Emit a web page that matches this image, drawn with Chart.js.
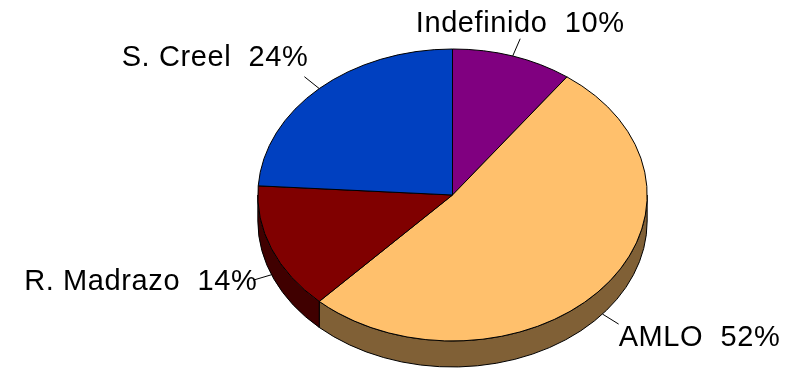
<!DOCTYPE html>
<html>
<head>
<meta charset="utf-8">
<script src="https://cdn.jsdelivr.net/npm/chart.js@4.4.1/dist/chart.umd.min.js"></script>
<style>
  html, body { margin: 0; padding: 0; background: #fff; overflow: hidden; }
  #chart_votos { display: block; }
</style>
</head>
<body>
<canvas id="chart_votos" width="792" height="369"></canvas>
<script>
var candidatos = ['Indefinido', 'AMLO', 'R. Madrazo', 'S. Creel'];
var porcentajes = [10, 52, 14, 24];
var colores = ['#800080', '#FFC06C', '#800000', '#0040C0'];
var colores_lado = ['#400040', '#806036', '#400000', '#002060'];

var ALTO = 26;        // grosor del pastel
var ASPECTO = 0.75;   // alto / ancho de la elipse
var GUIA = 19;        // largo de las lineas guia

// pastel "3d": se usan los angulos que calcula Chart.js y se dibuja aplastado
var pastel3d = {
  id: 'pastel3d',
  beforeDatasetsDraw: function(chart) {
    var ctx = chart.ctx;
    var arcs = chart.getDatasetMeta(0).data;
    if (!arcs.length) return false;
    var cx = arcs[0].x, cy = arcs[0].y;
    var ry = arcs[0].outerRadius, rx = ry / ASPECTO;

    ctx.save();
    ctx.lineWidth = 1;
    ctx.strokeStyle = '#000';
    ctx.lineJoin = 'round';

    // paredes (solo la mitad de enfrente)
    arcs.forEach(function(arc, i) {
      var a1 = Math.max(arc.startAngle, 0);
      var a2 = Math.min(arc.endAngle, Math.PI);
      if (a2 <= a1) return;
      ctx.beginPath();
      ctx.ellipse(cx, cy, rx, ry, 0, a1, a2);
      ctx.ellipse(cx, cy + ALTO, rx, ry, 0, a2, a1, true);
      ctx.closePath();
      ctx.fillStyle = colores_lado[i];
      ctx.fill();
      ctx.stroke();
    });

    // caras de arriba
    arcs.forEach(function(arc, i) {
      ctx.beginPath();
      ctx.moveTo(cx, cy);
      ctx.ellipse(cx, cy, rx, ry, 0, arc.startAngle, arc.endAngle);
      ctx.closePath();
      ctx.fillStyle = colores[i];
      ctx.fill();
      ctx.stroke();
    });

    // etiquetas con linea guia
    ctx.font = '29px "Liberation Sans", Arial, sans-serif';
    ctx.letterSpacing = '0.6px';
    ctx.fillStyle = '#000';
    arcs.forEach(function(arc, i) {
      var a = (arc.startAngle + arc.endAngle) / 2;
      var dx = rx * Math.cos(a), dy = ry * Math.sin(a);
      var len = Math.sqrt(dx * dx + dy * dy);
      var ux = dx / len, uy = dy / len;
      var x0 = cx + dx;
      var y0 = cy + dy + (dy > 0 ? ALTO : 0);
      var x1 = x0 + ux * GUIA, y1 = y0 + uy * GUIA;
      ctx.beginPath();
      ctx.moveTo(x0, y0);
      ctx.lineTo(x1, y1);
      ctx.stroke();

      var texto = candidatos[i] + '  ' + porcentajes[i] + '%';
      if (Math.abs(ux) < 0.5) {
        ctx.textAlign = 'center';
        ctx.textBaseline = uy < 0 ? 'bottom' : 'top';
        ctx.fillText(texto, x1, y1);
      } else {
        ctx.textAlign = ux > 0 ? 'left' : 'right';
        ctx.textBaseline = 'middle';
        var dyTexto = Math.sign(uy) * Math.max(0, Math.abs(uy) - 0.25) * 50;
        ctx.fillText(texto, x1 + (ux > 0 ? 0 : 4), y1 + dyTexto);
      }
    });
    ctx.restore();
    return false;
  }
};

var config_votos = {
  type: 'pie',
  data: {
    labels: candidatos,
    datasets: [
      {
        data: porcentajes,
        backgroundColor: colores,
        borderColor: '#000',
        borderWidth: 1,
      }
    ],
  },
  options: {
    responsive: false,
    animation: false,
    events: [],
    layout: {
      padding: { left: 306, right: 193, top: 48.5, bottom: 27.5 },
    },
    plugins: {
      legend: { display: false },
      tooltip: { enabled: false },
    },
  },
  plugins: [pastel3d],
};

var chart_votos = new Chart(document.getElementById('chart_votos'), config_votos);
</script>
</body>
</html>
